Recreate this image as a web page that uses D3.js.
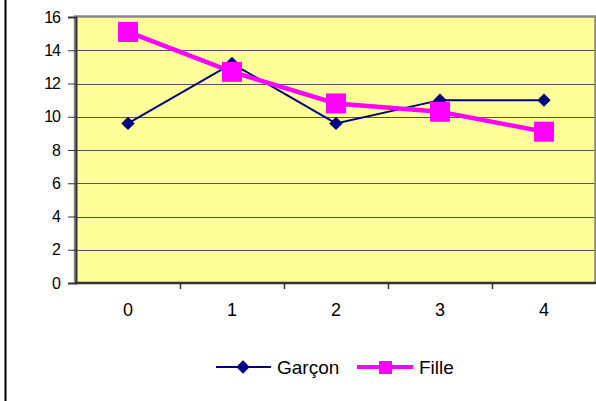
<!DOCTYPE html>
<html><head><meta charset="utf-8">
<script src="https://cdn.jsdelivr.net/npm/d3@7"></script>
<style>html,body{margin:0;padding:0;background:#fff;overflow:hidden}svg{display:block}</style>
</head><body>
<svg id="c" width="596" height="401"></svg>
<script>
const categories = ["0", "1", "2", "3", "4"];
const garcon = [9.6, 13.2, 9.6, 11.0, 11.0];
const fille = [15.1, 12.7, 10.8, 10.3, 9.1];
const yTicks = [0, 2, 4, 6, 8, 10, 12, 14, 16];
const seriesNames = ["Garçon", "Fille"];

const svg = d3.select("#c");
const L = 76, R = 596, T = 17, B = 283;
const x = d3.scaleBand().domain(categories).range([L, R]).padding(0);
const y = d3.scaleLinear().domain([0, 16]).range([B, T]);

// chart area left border
svg.append("line").attr("x1", 5.5).attr("x2", 5.5).attr("y1", 0).attr("y2", 401)
  .attr("stroke", "#000").attr("stroke-width", 2);

// plot area
svg.append("rect").attr("x", L).attr("y", T).attr("width", R - L - 1).attr("height", B - T)
  .attr("fill", "#FFFF99");

// gridlines
svg.append("g").selectAll("line").data(yTicks.filter(d => d > 0 && d < 16)).join("line")
  .attr("x1", L).attr("x2", R).attr("y1", d => Math.round(y(d)) + 0.5).attr("y2", d => Math.round(y(d)) + 0.5)
  .attr("stroke", "#555").attr("stroke-width", 1);

// plot border (gray)
svg.append("path").attr("d", `M${L-1},${B} V${T-0.5} H${R-0.5} V${B}`)
  .attr("fill", "none").attr("stroke", "#888").attr("stroke-width", 2.5);

// Y axis
const yAxis = d3.axisLeft(y).tickValues(yTicks).tickSize(8).tickPadding(8).tickFormat(d3.format("d"));
const gy = svg.append("g").attr("transform", `translate(${L},0)`).call(yAxis);
gy.select(".domain").attr("stroke", "#333").attr("stroke-width", 2);
gy.selectAll(".tick line").attr("stroke", "#333");
gy.selectAll("text").attr("font-family", "Liberation Sans, Arial, sans-serif").attr("font-size", 16)
  .attr("fill", "#000").attr("letter-spacing", -1);

// X axis: ticks between categories
const bounds = categories.map((c, i) => x(c)).concat([R]);
const gx = svg.append("g");
gx.append("line").attr("x1", L - 1).attr("x2", R).attr("y1", B).attr("y2", B)
  .attr("stroke", "#333").attr("stroke-width", 2.5);
gx.selectAll("line.t").data(bounds.slice(1, -1)).join("line").attr("class", "t")
  .attr("x1", d => Math.round(d) + 0.5).attr("x2", d => Math.round(d) + 0.5).attr("y1", B).attr("y2", B + 6)
  .attr("stroke", "#333").attr("stroke-width", 1.5);
gx.selectAll("text").data(categories).join("text")
  .attr("x", d => x(d) + x.bandwidth() / 2).attr("y", 316).attr("text-anchor", "middle")
  .attr("font-family", "Liberation Sans, Arial, sans-serif").attr("font-size", 18).attr("fill", "#000")
  .text(d => d);

const cx = (d, i) => x(categories[i]) + x.bandwidth() / 2;
const line = d3.line().x((d, i) => cx(d, i)).y(d => y(d));

// Garçon
svg.append("path").datum(garcon).attr("d", line).attr("fill", "none")
  .attr("stroke", "#000080").attr("stroke-width", 2);
const diamond = d3.symbol().type(d3.symbolSquare).size(90);
svg.append("g").selectAll("path").data(garcon).join("path")
  .attr("d", diamond)
  .attr("transform", (d, i) => `translate(${cx(d, i)},${y(d)}) rotate(45)`)
  .attr("fill", "#000080");

// Fille
svg.append("path").datum(fille).attr("d", line).attr("fill", "none")
  .attr("stroke", "#FF00FF").attr("stroke-width", 4.5);
svg.append("g").selectAll("rect").data(fille).join("rect")
  .attr("x", (d, i) => cx(d, i) - 10).attr("y", d => y(d) - 10)
  .attr("width", 20).attr("height", 20).attr("fill", "#FF00FF");

// Legend
const lg = svg.append("g").attr("font-family", "Liberation Sans, Arial, sans-serif").attr("font-size", 19);
lg.append("line").attr("x1", 216).attr("x2", 271).attr("y1", 367).attr("y2", 367)
  .attr("stroke", "#000080").attr("stroke-width", 2);
lg.append("path").attr("d", diamond).attr("transform", "translate(243,367) rotate(45)").attr("fill", "#000080");
lg.append("text").attr("x", 277).attr("y", 374).text(seriesNames[0]);
lg.append("line").attr("x1", 357).attr("x2", 413).attr("y1", 367).attr("y2", 367)
  .attr("stroke", "#FF00FF").attr("stroke-width", 4);
lg.append("rect").attr("x", 379).attr("y", 361).attr("width", 13).attr("height", 13).attr("fill", "#FF00FF");
lg.append("text").attr("x", 419).attr("y", 374).text(seriesNames[1]);
</script>
</body></html>
